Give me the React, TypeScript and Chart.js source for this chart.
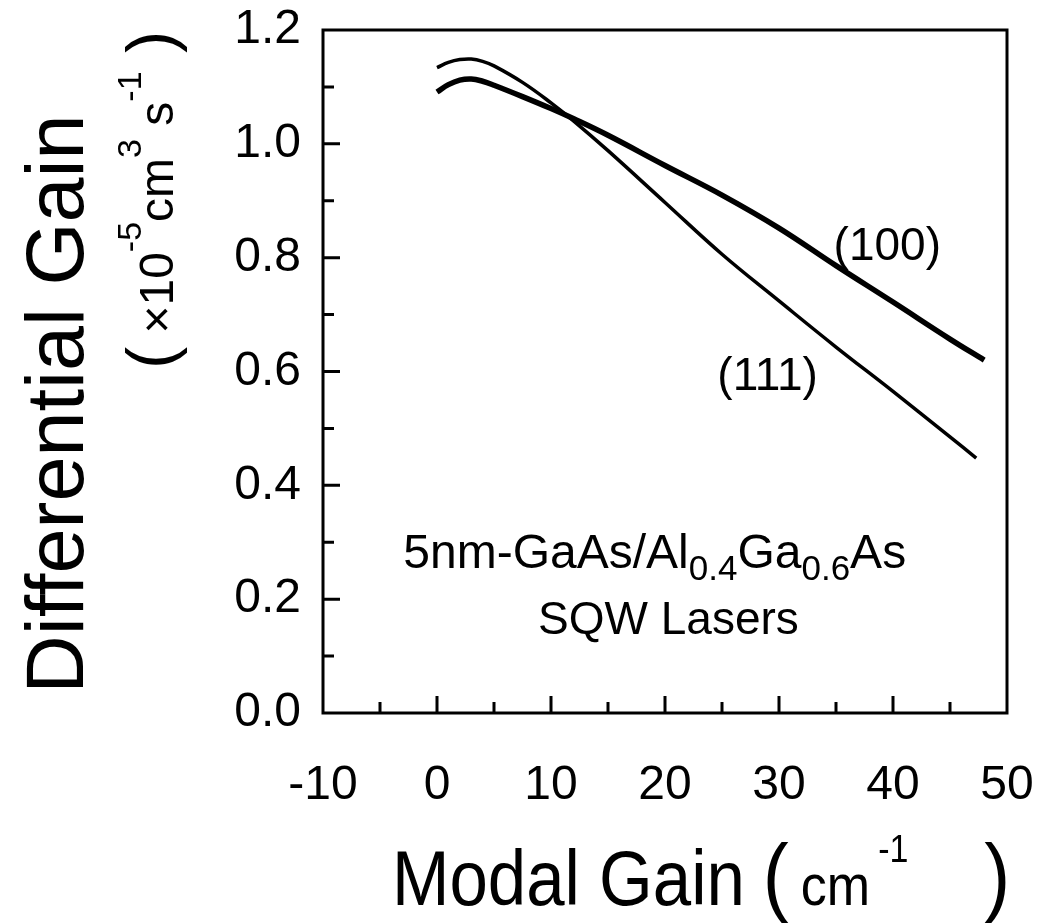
import React, { useEffect, useRef } from 'react';
import { Chart, registerables } from 'chart.js';
Chart.register(...registerables);

const gain100 = [0, 1, 2, 3, 4, 5, 7.5, 10, 12, 15, 20, 25, 30, 35, 40, 45, 48];
const diff100 = [1.091, 1.104, 1.112, 1.114, 1.11, 1.103, 1.083, 1.062, 1.044, 1.015, 0.962, 0.91, 0.852, 0.786, 0.722, 0.657, 0.62];
const gain111 = [0, 1, 2, 3, 4, 5, 7.5, 10, 12, 15, 20, 25, 30, 35, 40, 45, 47.3];
const diff111 = [1.134, 1.143, 1.148, 1.149, 1.145, 1.137, 1.108, 1.072, 1.04, 0.988, 0.897, 0.806, 0.724, 0.643, 0.565, 0.485, 0.448];

const xTickLabels = ['-10', '0', '10', '20', '30', '40', '50'];
const yTickLabels = ['0.0', '0.2', '0.4', '0.6', '0.8', '1.0', '1.2'];

const FONT = "'Liberation Sans', Arial, Helvetica, sans-serif";

type Seg = { t: string; size: number; dy?: number; dx?: number };

function segWidth(ctx: CanvasRenderingContext2D, segs: Seg[]) {
  let w = 0;
  for (const s of segs) {
    ctx.font = `${s.size}px ${FONT}`;
    w += (s.dx || 0) + ctx.measureText(s.t).width;
  }
  return w;
}

function drawRich(
  ctx: CanvasRenderingContext2D,
  segs: Seg[],
  cx: number,
  cy: number,
  rot = 0,
  sy = 1,
  align: 'center' | 'left' = 'center'
) {
  ctx.save();
  ctx.translate(cx, cy);
  if (rot) ctx.rotate(rot);
  if (sy !== 1) ctx.scale(1, sy);
  ctx.fillStyle = '#000';
  ctx.textBaseline = 'alphabetic';
  ctx.textAlign = 'left';
  const w = segWidth(ctx, segs);
  let x = align === 'center' ? -w / 2 : 0;
  for (const s of segs) {
    ctx.font = `${s.size}px ${FONT}`;
    x += s.dx || 0;
    ctx.fillText(s.t, x, s.dy || 0);
    x += ctx.measureText(s.t).width;
  }
  ctx.restore();
}

const framePlugin = {
  id: 'framePlugin',
  afterDatasetsDraw(chart: any) {
    const ctx: CanvasRenderingContext2D = chart.ctx;
    const a = chart.chartArea;
    const xs = chart.scales.x;
    const ys = chart.scales.y;
    ctx.save();
    ctx.strokeStyle = '#000';
    ctx.lineWidth = 3;
    ctx.strokeRect(a.left, a.top, a.right - a.left, a.bottom - a.top);
    ctx.beginPath();
    for (const t of xs.ticks) {
      const v = t.value;
      if (v <= xs.min || v >= xs.max) continue;
      const px = xs.getPixelForValue(v);
      const len = Math.abs(v % 10) < 1e-6 ? 17 : 11;
      ctx.moveTo(px, a.bottom);
      ctx.lineTo(px, a.bottom - len);
    }
    for (const t of ys.ticks) {
      const v = t.value;
      if (v <= ys.min + 1e-6 || v >= ys.max - 1e-6) continue;
      const py = ys.getPixelForValue(v);
      const major = Math.round(v * 10) % 2 === 0;
      const len = major ? 17 : 11;
      ctx.moveTo(a.left, py);
      ctx.lineTo(a.left + len, py);
    }
    ctx.stroke();
    ctx.restore();

    // annotations placed in data coordinates
    drawRich(ctx, [{ t: '(100)', size: 46 }], xs.getPixelForValue(39.5), ys.getPixelForValue(0.822) + 15);
    drawRich(ctx, [{ t: '(111)', size: 46 }], xs.getPixelForValue(29.0), ys.getPixelForValue(0.585) + 10);
    drawRich(
      ctx,
      [
        { t: '5nm-GaAs/Al', size: 48 },
        { t: '0.4', size: 35, dy: 12 },
        { t: 'Ga', size: 48 },
        { t: '0.6', size: 35, dy: 12 },
        { t: 'As', size: 48 },
      ],
      xs.getPixelForValue(19.1),
      ys.getPixelForValue(0.281) + 15
    );
    drawRich(ctx, [{ t: 'SQW Lasers', size: 46 }], xs.getPixelForValue(20.3), ys.getPixelForValue(0.167) + 16);

    // axis titles
    drawRich(
      ctx,
      [
        { t: 'Modal Gain', size: 69 },
        { t: '(', size: 78, dx: 18 },
        { t: 'cm', size: 52, dx: 12 },
        { t: '-1', size: 34, dy: -38, dx: 8 },
        { t: ')', size: 78, dx: 76 },
      ],
      392,
      905,
      0,
      1.12,
      'left'
    );
    drawRich(ctx, [{ t: 'Differential Gain', size: 81 }], 83, 404, -Math.PI / 2);
    drawRich(
      ctx,
      [
        { t: '(', size: 66 },
        { t: ' \u00d710', size: 48 },
        { t: '-5', size: 34, dy: -32 },
        { t: 'cm', size: 48 },
        { t: '3', size: 34, dy: -32 },
        { t: ' s', size: 48 },
        { t: '-1', size: 34, dy: -32 },
        { t: ' )', size: 66 },
      ],
      173,
      200,
      -Math.PI / 2
    );
  },
};

export default function App() {
  const ref = useRef<HTMLCanvasElement>(null);
  useEffect(() => {
    if (!ref.current) return;
    const chart = new Chart(ref.current, {
      type: 'line',
      data: {
        datasets: [
          {
            label: '(100)',
            data: gain100.map((x, i) => ({ x, y: diff100[i] })),
            borderColor: '#000',
            borderWidth: 5.5,
            pointRadius: 0,
            tension: 0.4,
            fill: false,
          },
          {
            label: '(111)',
            data: gain111.map((x, i) => ({ x, y: diff111[i] })),
            borderColor: '#000',
            borderWidth: 3.5,
            pointRadius: 0,
            tension: 0.4,
            fill: false,
          },
        ],
      },
      options: {
        animation: false,
        responsive: true,
        maintainAspectRatio: false,
        layout: { padding: { left: 0, right: 32, top: 30, bottom: 0 } },
        plugins: { legend: { display: false }, tooltip: { enabled: false } },
        scales: {
          x: {
            type: 'linear',
            min: -10,
            max: 50,
            grid: { display: false, drawTicks: false },
            border: { display: false },
            ticks: {
              stepSize: 5,
              autoSkip: false,
              maxRotation: 0,
              padding: 44,
              color: '#000',
              font: { size: 48, family: FONT },
              callback: (v: any) => {
                const n = Number(v);
                return Math.abs(n % 10) < 1e-6 ? xTickLabels[Math.round((n + 10) / 10)] : '';
              },
            },
            afterFit: (s: any) => {
              s.height = 924 - 713;
              s.paddingLeft = 0;
              s.paddingRight = 0;
              s.paddingTop = 0;
              s.paddingBottom = 0;
            },
          },
          y: {
            type: 'linear',
            min: 0,
            max: 1.2,
            grid: { display: false, drawTicks: false },
            border: { display: false },
            ticks: {
              stepSize: 0.1,
              autoSkip: false,
              padding: 22,
              color: '#000',
              font: { size: 48, family: FONT },
              callback: (v: any) => {
                const k = Math.round(Number(v) * 10);
                return k % 2 === 0 ? yTickLabels[k / 2] : '';
              },
            },
            afterFit: (s: any) => {
              s.width = 323;
              s.paddingLeft = 0;
              s.paddingRight = 0;
              s.paddingTop = 0;
              s.paddingBottom = 0;
            },
          },
        },
      },
      plugins: [framePlugin],
    } as any);
    return () => chart.destroy();
  }, []);
  return (
    <div style={{ position: 'fixed', left: 0, top: 0, width: 1039, height: 924, background: '#fff' }}>
      <canvas ref={ref} />
    </div>
  );
}
